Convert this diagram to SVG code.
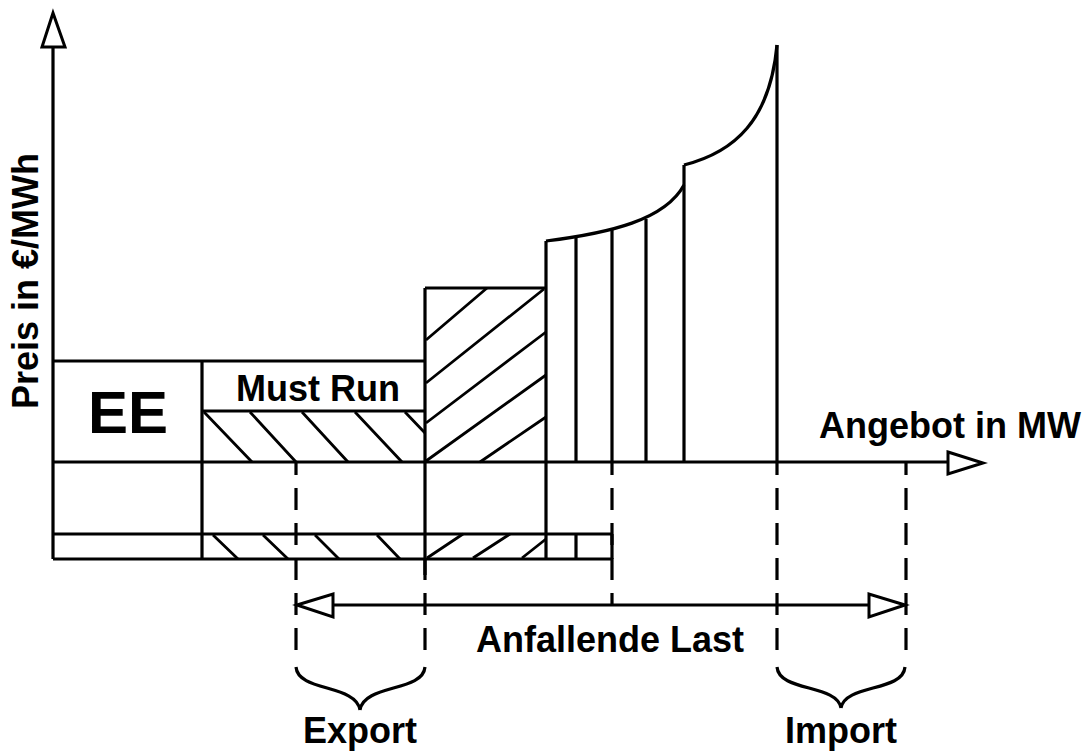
<svg xmlns="http://www.w3.org/2000/svg" width="1091" height="752" viewBox="0 0 1091 752">
<style>
.l{stroke:#000;stroke-width:3.2;fill:none;stroke-linecap:butt}
.d{stroke:#000;stroke-width:3.2;fill:none;stroke-dasharray:22 13;stroke-dashoffset:9}
.h{stroke:#000;stroke-width:2.8;fill:none}
.ah{stroke:#000;stroke-width:3;fill:#fff;stroke-linejoin:miter}
.t{font-family:"Liberation Sans",Arial,sans-serif;font-weight:bold;fill:#000}
</style>
<rect width="1091" height="752" fill="#fff"/>
<g id="ee">
<path class="l" d="M53,361 H202 M202,361 V559"/>
<text class="t" x="128" y="433" font-size="60" text-anchor="middle">EE</text>
</g>
<g id="must-run">
<path class="l" d="M202,361 H425 M202,411 H425"/>
<path class="h" d="M204,412 L252,462 M250,412 L296,462 M302,412 L348,462 M355,412 L402,462 M405,412 L425,433"/>
<text class="t" x="318" y="401" font-size="36" text-anchor="middle">Must Run</text>
</g>
<g id="block3">
<path class="l" d="M425,288 H546 M425,288 V575"/>
<path class="h" d="M426,340 L487,288 M426,383 L544,289 M426,423 L546,332 M426,461 L546,375 M480,462 L546,417"/>
</g>
<g id="merit-order">
<path class="l" d="M546,241 V559 M576,238 V462 M612,230 V462 M646,219 V462 M684,165 V462 M777,45 V462"/>
<path class="l" d="M546,241 C610,233 665,220 684,185 M684,165 C735,152 770,120 777,45"/>
</g>
<g id="lower-bar">
<path class="l" d="M53,534 H612 M53,559 H612 M576,534 V559 M612,534 V559"/>
<path class="h" d="M213,535 L238,559 M263,535 L288,559 M315,535 L339,559 M377,535 L400,559 M427,558 L463,534 M473,558 L510,534 M522,558 L546,539"/>
</g>
<g id="axes">
<path class="l" d="M53,47 V559 M53,462 H948"/>
<polygon class="ah" points="53,13 42,47 65,47"/>
<polygon class="ah" points="948,452 983,463 948,474"/>
<text class="t" x="950" y="438" font-size="36" text-anchor="middle">Angebot in MW</text>
<text class="t" font-size="36" text-anchor="middle" transform="translate(38,281) rotate(-90)">Preis in €/MWh</text>
</g>
<g id="connectors">
<path class="d" d="M296,462 V652"/>
<path class="d" d="M612,462 V605"/>
<path class="d" d="M777,462 V652"/>
<path class="d" d="M906,462 V652"/>
<path class="d" style="stroke-dashoffset:1" d="M425,559 V652"/>
<path class="l" d="M330,605 H870"/>
<polygon class="ah" points="297,605 333,594 333,617"/>
<polygon class="ah" points="905,605 869,594 869,617"/>
</g>
<g id="last">
<text class="t" x="610" y="652" font-size="36" text-anchor="middle">Anfallende Last</text>
</g>
<g id="export">
<path class="l" d="M296,667 C298,692 356,684 360,710 M425,667 C423,692 364,684 360,710"/>
<text class="t" x="360" y="743" font-size="36" text-anchor="middle">Export</text>
</g>
<g id="import">
<path class="l" d="M777,667 C779,692 837,684 841,708 M905,667 C903,692 845,684 841,708"/>
<text class="t" x="841" y="743" font-size="36" text-anchor="middle">Import</text>
</g>
</svg>
